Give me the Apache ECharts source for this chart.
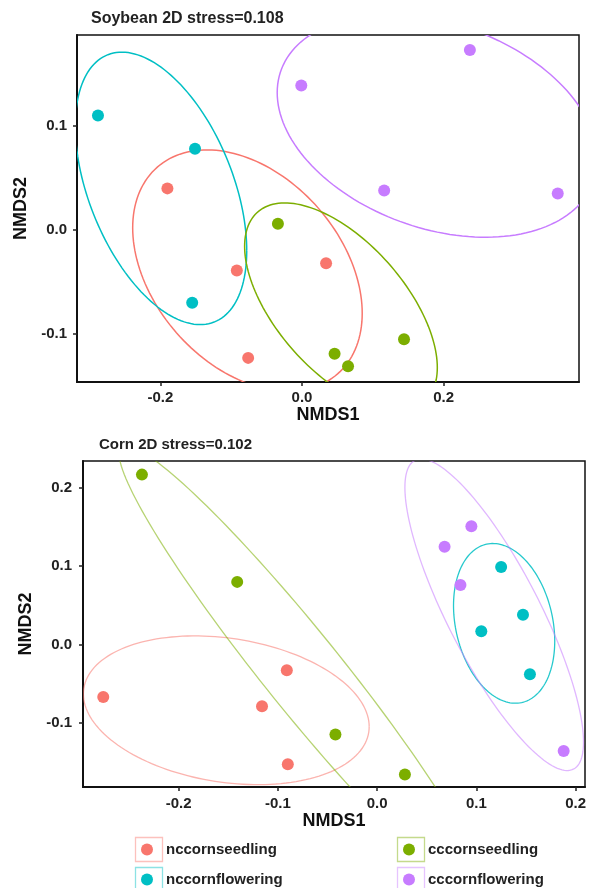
<!DOCTYPE html>
<html>
<head>
<meta charset="utf-8">
<title>NMDS</title>
<script src="https://cdn.jsdelivr.net/npm/echarts@6/dist/echarts.min.js"></script>
<style>
  html, body { margin: 0; padding: 0; background: #fff; }
  #main { width: 596px; height: 888px; }
</style>
</head>
<body>
<div id="main"></div>
<script>
var groupNames = ['nccornseedling', 'nccornflowering', 'cccornseedling', 'cccornflowering'];
var groupColors = ['#F8766D', '#00BFC4', '#7CAE00', '#C77CFF'];

// Soybean NMDS scores, same order as groupNames
var soyNcSeedling = [[-0.190, 0.040], [-0.092, -0.039], [-0.076, -0.123], [0.034, -0.032]];
var soyNcFlowering = [[-0.288, 0.110], [-0.151, 0.078], [-0.155, -0.070]];
var soyCcSeedling = [[-0.034, 0.006], [0.046, -0.119], [0.065, -0.131], [0.144, -0.105]];
var soyCcFlowering = [[-0.001, 0.139], [0.237, 0.173], [0.116, 0.038], [0.361, 0.035]];

// Corn NMDS scores
var cornNcSeedling = [[-0.276, -0.067], [-0.116, -0.079], [-0.091, -0.033], [-0.090, -0.153]];
var cornNcFlowering = [[0.125, 0.099], [0.147, 0.038], [0.105, 0.017], [0.154, -0.038]];
var cornCcSeedling = [[-0.237, 0.217], [-0.141, 0.080], [-0.042, -0.115], [0.028, -0.166]];
var cornCcFlowering = [[0.095, 0.151], [0.068, 0.125], [0.084, 0.076], [0.188, -0.136]];

// ellipses: [centerX, centerY, halfWidthX, halfHeightY, correlation]
var soyEllipses = [
  [-0.077, -0.039, 0.162, 0.116, -0.354],
  [-0.199, 0.040, 0.121, 0.131, -0.457],
  [0.055, -0.074, 0.136, 0.100, -0.583],
  [0.191, 0.100, 0.226, 0.107, -0.300]
];
var cornEllipses = [
  [-0.152, -0.084, 0.144, 0.095, -0.220],
  [0.128, 0.027, 0.051, 0.102, -0.222],
  [-0.075, -0.035, 0.185, 0.289, -0.963],
  [0.118, 0.038, 0.090, 0.199, -0.817]
];

var soyTicksX = [-0.2, 0.0, 0.2];
var soyTicksY = [-0.1, 0.0, 0.1];
var cornTicksX = [-0.2, -0.1, 0.0, 0.1, 0.2];
var cornTicksY = [-0.1, 0.0, 0.1, 0.2];

var soyPoints = [soyNcSeedling, soyNcFlowering, soyCcSeedling, soyCcFlowering];
var cornPoints = [cornNcSeedling, cornNcFlowering, cornCcSeedling, cornCcFlowering];

var fontFamily = '"Liberation Sans", Arial, sans-serif';

function renderEllipse(params, api) {
	var cx = api.value(0), cy = api.value(1), rx = api.value(2), ry = api.value(3), rho = api.value(4);
	var s = Math.sqrt(1 - rho * rho);
	var pts = [];
	for (var i = 0; i <= 160; i++) {
		var t = i / 160 * Math.PI * 2;
		pts.push(api.coord([cx + rx * Math.cos(t), cy + ry * (rho * Math.cos(t) + s * Math.sin(t))]));
	}
	var cs = params.coordSys;
	return {
		type: 'group',
		clipPath: { type: 'rect', shape: { x: cs.x, y: cs.y, width: cs.width, height: cs.height } },
		children: [{
			type: 'polyline',
			shape: { points: pts },
			style: { fill: null, stroke: api.visual('color'), lineWidth: api.value(5), opacity: api.value(6) }
		}]
	};
}

function makeXAxis(grid, min, max, ticks, margin) {
	return {
		type: 'value', gridIndex: grid, min: min, max: max,
		name: 'NMDS1', nameLocation: 'middle', nameGap: 20,
		nameTextStyle: { fontSize: 18, fontWeight: 'bold', color: '#111', fontFamily: fontFamily },
		splitLine: { show: false },
		axisLine: { onZero: false, lineStyle: { color: '#111', width: 2 } },
		axisTick: { customValues: ticks, length: 4, lineStyle: { color: '#222', width: 1.5 } },
		axisLabel: {
			customValues: ticks, margin: margin, fontSize: 15, fontWeight: 'bold', color: '#222', fontFamily: fontFamily,
			formatter: function(v) { return v.toFixed(1); }
		}
	};
}

function makeYAxis(grid, min, max, ticks, gap, margin) {
	return {
		type: 'value', gridIndex: grid, min: min, max: max,
		name: 'NMDS2', nameLocation: 'middle', nameGap: gap,
		nameTextStyle: { fontSize: 18, fontWeight: 'bold', color: '#111', fontFamily: fontFamily },
		splitLine: { show: false },
		axisLine: { onZero: false, lineStyle: { color: '#111', width: 2 } },
		axisTick: { customValues: ticks, length: 4, lineStyle: { color: '#222', width: 1.5 } },
		axisLabel: {
			customValues: ticks, margin: margin, fontSize: 15, fontWeight: 'bold', color: '#222', fontFamily: fontFamily,
			formatter: function(v) { return v.toFixed(1); }
		}
	};
}

var series = [];
for (var g = 0; g < groupNames.length; g++) {
	var e1 = soyEllipses[g].concat([1.5, 1]);
	var e2 = cornEllipses[g].concat([1.3, g == 1 ? 0.85 : 0.55]);
	series.push({
		name: groupNames[g], type: 'custom', xAxisIndex: 0, yAxisIndex: 0,
		itemStyle: { color: groupColors[g] }, renderItem: renderEllipse, data: [e1], z: 2
	});
	series.push({
		name: groupNames[g], type: 'custom', xAxisIndex: 1, yAxisIndex: 1,
		itemStyle: { color: groupColors[g] }, renderItem: renderEllipse, data: [e2], z: 2
	});
	series.push({
		name: groupNames[g], type: 'scatter', xAxisIndex: 0, yAxisIndex: 0, symbolSize: 12,
		itemStyle: { color: groupColors[g], opacity: 1 }, data: soyPoints[g], z: 3
	});
	series.push({
		name: groupNames[g], type: 'scatter', xAxisIndex: 1, yAxisIndex: 1, symbolSize: 12,
		itemStyle: { color: groupColors[g], opacity: 1 }, data: cornPoints[g], z: 3
	});
}

// one legend per key so each sits in its own cell
var keyPos = [[133, 842], [133, 872], [395, 842], [395, 872]];
var legends = [];
var boxes = [];
for (var k = 0; k < groupNames.length; k++) {
	legends.push({
		left: keyPos[k][0] + 8, top: keyPos[k][1], padding: 0, itemWidth: 28, itemHeight: 12,
		selectedMode: false,
		textStyle: { fontSize: 15, fontWeight: 'bold', color: '#222', fontFamily: fontFamily, lineHeight: 12 },
		data: [{ name: groupNames[k], icon: 'circle', itemStyle: { color: groupColors[k] } }]
	});
	boxes.push({
		type: 'rect', left: keyPos[k][0], top: keyPos[k][1] - 7, silent: true,
		shape: { width: 27, height: 24 },
		style: { fill: 'none', stroke: groupColors[k], lineWidth: 1.3, opacity: 0.45 }
	});
}

var chart = echarts.init(document.getElementById('main'), null, { renderer: 'canvas' });
chart.setOption({
	animation: false,
	backgroundColor: '#fff',
	title: [
		{ text: 'Soybean 2D stress=0.108', left: 91, top: 11, padding: 0,
			textStyle: { fontSize: 16, fontWeight: 'bold', color: '#222', fontFamily: fontFamily } },
		{ text: 'Corn 2D stress=0.102', left: 99, top: 437, padding: 0,
			textStyle: { fontSize: 15, fontWeight: 'bold', color: '#222', fontFamily: fontFamily } }
	],
	grid: [
		{ left: 77, right: 17, top: 35, height: 347, show: true, borderColor: '#111', borderWidth: 1.5 },
		{ left: 83, right: 11, top: 461, height: 326, show: true, borderColor: '#111', borderWidth: 1.5 }
	],
	xAxis: [
		makeXAxis(0, -0.3176, 0.391, soyTicksX, 8),
		makeXAxis(1, -0.2964, 0.2095, cornTicksX, 9)
	],
	yAxis: [
		makeYAxis(0, -0.1462, 0.1875, soyTicksY, 43, 10),
		makeYAxis(1, -0.182, 0.2344, cornTicksY, 42, 11)
	],
	legend: legends,
	graphic: boxes,
	series: series
});
</script>
</body>
</html>
